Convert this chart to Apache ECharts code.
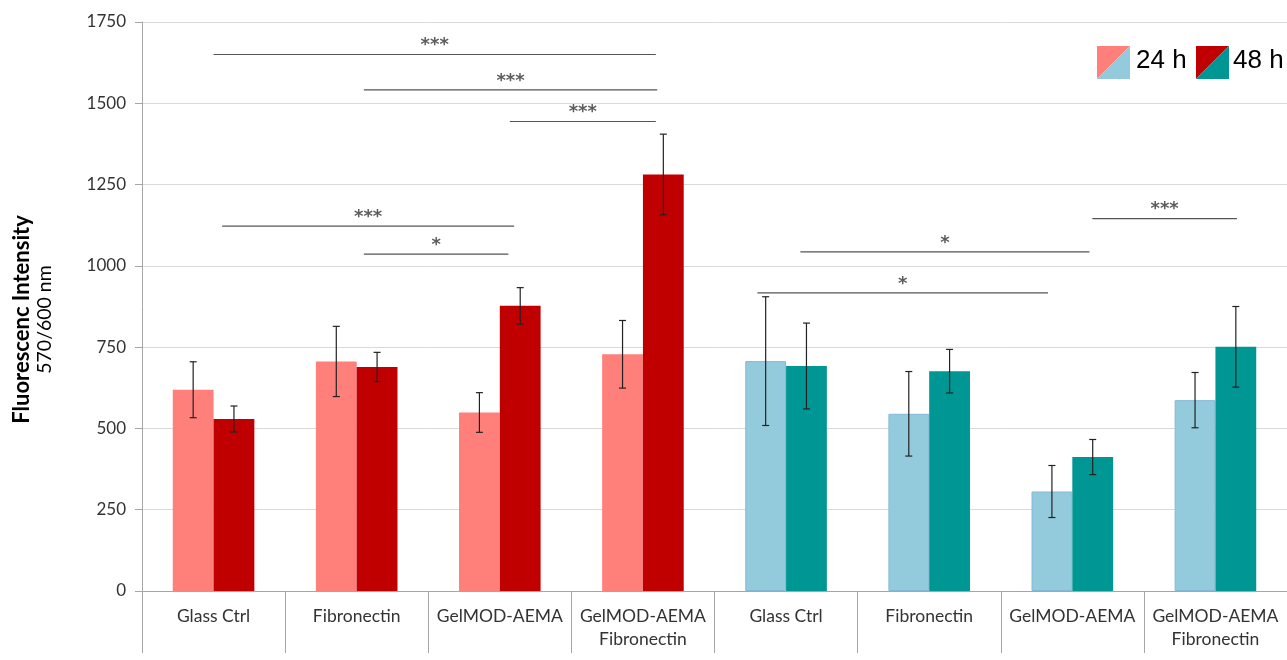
<!DOCTYPE html>
<html>
<head>
<meta charset="utf-8">
<script src="https://cdn.jsdelivr.net/npm/echarts@6/dist/echarts.min.js"></script>
<style>
html,body{margin:0;padding:0;background:#fff;}
#chart{width:1287px;height:660px;}
</style>
</head>
<body>
<div id="chart"></div>
<script>
// ---- data ----
const categories = ['Glass Ctrl', 'Fibronectin', 'GelMOD-AEMA', 'GelMOD-AEMA\nFibronectin',
                    'Glass Ctrl', 'Fibronectin', 'GelMOD-AEMA', 'GelMOD-AEMA\nFibronectin'];
const values24 = [619, 706, 549, 728, 707, 545, 306, 587];
const errors24 = [86, 108, 61, 104, 198, 130, 80, 85];
const values48 = [529, 689, 877, 1281, 692, 676, 412, 751];
const errors48 = [40, 45, 56, 124, 132, 67, 54, 124];
const yTicks = [0, 250, 500, 750, 1000, 1250, 1500, 1750];
// significance brackets (x in category units from left edge, y in data units)
const bracketX1 = [0.50, 1.55, 2.57, 0.56, 1.55, 4.30, 4.60, 6.64];
const bracketX2 = [3.59, 3.60, 3.59, 2.60, 2.56, 6.33, 6.62, 7.65];
const bracketY  = [1650, 1541, 1444, 1122, 1036, 917, 1043, 1145];
const bracketText = ['***', '***', '***', '***', '*', '*', '*', '***'];
const legendNames = ['24 h', '48 h'];

// ---- styles ----
const light = ['#FF7F7B', '#FF7F7B', '#FF7F7B', '#FF7F7B', '#94CBDC', '#94CBDC', '#94CBDC', '#94CBDC'];
const dark  = ['#C00000', '#C00000', '#C00000', '#C00000', '#009694', '#009694', '#009694', '#009694'];
const FONT = 'Lato';
const CATGAP = 0.43;

const chart = echarts.init(document.getElementById('chart'), null, {renderer: 'canvas'});

function barData(vals, cols) {
  return vals.map((v, i) => ({
    value: v,
    itemStyle: {color: cols[i], borderColor: i >= 4 && cols === light ? '#84B9D6' : cols[i], borderWidth: i >= 4 && cols === light ? 1 : 0}
  }));
}

function errRender(side) {
  return function (params, api) {
    const i = api.value(0), v = api.value(1), e = api.value(2);
    const band = api.size([1, 0])[0];
    const bw = band * (1 - CATGAP) / 2;
    const c = api.coord([i, v]);
    const x = c[0] + side * bw / 2;
    const yt = api.coord([i, v + e])[1];
    const yb = api.coord([i, v - e])[1];
    const cap = 3.5;
    const st = {stroke: '#222', lineWidth: 1.2};
    return {
      type: 'group',
      children: [
        {type: 'line', shape: {x1: x, y1: yt, x2: x, y2: yb}, style: st},
        {type: 'line', shape: {x1: x - cap, y1: yt, x2: x + cap, y2: yt}, style: st},
        {type: 'line', shape: {x1: x - cap, y1: yb, x2: x + cap, y2: yb}, style: st}
      ]
    };
  };
}

const series = [
  {name: legendNames[0], type: 'bar', data: barData(values24, light), barGap: '0%', barCategoryGap: (CATGAP * 100) + '%', z: 2},
  {name: legendNames[1], type: 'bar', data: barData(values48, dark), barGap: '0%', barCategoryGap: (CATGAP * 100) + '%', z: 2},
  {type: 'custom', renderItem: errRender(-1), data: values24.map((v, i) => [i, v, errors24[i]]), encode: {x: 0, y: 1}, z: 5, silent: true},
  {type: 'custom', renderItem: errRender(1), data: values48.map((v, i) => [i, v, errors48[i]]), encode: {x: 0, y: 1}, z: 5, silent: true}
];

bracketY.forEach((y, k) => {
  series.push({
    type: 'line', xAxisIndex: 1, yAxisIndex: 0,
    data: [[bracketX1[k], y], [bracketX2[k], y]],
    symbol: 'none', lineStyle: {color: '#555', width: 1.2}, z: 6, silent: true
  });
});
series.push({
  type: 'scatter', xAxisIndex: 1, yAxisIndex: 0, symbolSize: 0, z: 7, silent: true,
  data: bracketY.map((y, k) => [(bracketX1[k] + bracketX2[k]) / 2, y, bracketText[k]]),
  label: {show: true, position: 'top', distance: 0, formatter: p => p.value[2],
          fontFamily: 'DejaVu Sans', fontWeight: 'bold', fontSize: 18, color: '#333'}
});

const option = {
  animation: false,
  backgroundColor: '#fff',
  grid: {left: 142, top: 22, width: 1150, height: 569, containLabel: false},
  xAxis: [
    {
      type: 'category', data: categories, boundaryGap: true,
      axisLine: {show: true, lineStyle: {color: '#A6A6A6', width: 1}},
      axisTick: {show: true, interval: 0, length: 62, lineStyle: {color: '#A6A6A6'}},
      axisLabel: {interval: 0, margin: 14, fontFamily: FONT, fontSize: 17.5, color: '#333', lineHeight: 23}
    },
    {type: 'value', min: 0, max: 8, show: false}
  ],
  yAxis: {
    type: 'value', min: yTicks[0], max: yTicks[yTicks.length - 1], interval: 250,
    axisLine: {show: true, lineStyle: {color: '#A6A6A6'}},
    axisTick: {show: true, length: 7, lineStyle: {color: '#A6A6A6'}},
    axisLabel: {margin: 16, fontFamily: FONT, fontSize: 17, color: '#333', formatter: v => String(v)},
    splitLine: {lineStyle: {color: '#D9D9D9', width: 1}},
    name: '{a|Fluorescenc Intensity}\n{b|570/600 nm}',
    nameLocation: 'middle', nameRotate: 90, nameGap: 86,
    nameTextStyle: {
      padding: [0, 26, 0, 0],
      rich: {
        a: {fontFamily: FONT, fontWeight: 'bold', fontSize: 22, color: '#000', lineHeight: 24},
        b: {fontFamily: FONT, fontSize: 19.5, color: '#000', lineHeight: 22}
      }
    }
  },
  legend: {show: false},
  graphic: [
    {type: 'polygon', shape: {points: [[1097, 46], [1130, 46], [1097, 79]]}, style: {fill: '#FF7F7B'}},
    {type: 'polygon', shape: {points: [[1130, 46], [1130, 79], [1097, 79]]}, style: {fill: '#94CBDC'}},
    {type: 'text', left: 1136, top: 48, style: {text: legendNames[0], font: '26px "Liberation Sans"', fill: '#000'}},
    {type: 'polygon', shape: {points: [[1196, 46], [1229, 46], [1196, 79]]}, style: {fill: '#C00000'}},
    {type: 'polygon', shape: {points: [[1229, 46], [1229, 79], [1196, 79]]}, style: {fill: '#009694'}},
    {type: 'text', left: 1233, top: 48, style: {text: legendNames[1], font: '26px "Liberation Sans"', fill: '#000'}}
  ],
  series: series
};
chart.setOption(option);
</script>
</body>
</html>
